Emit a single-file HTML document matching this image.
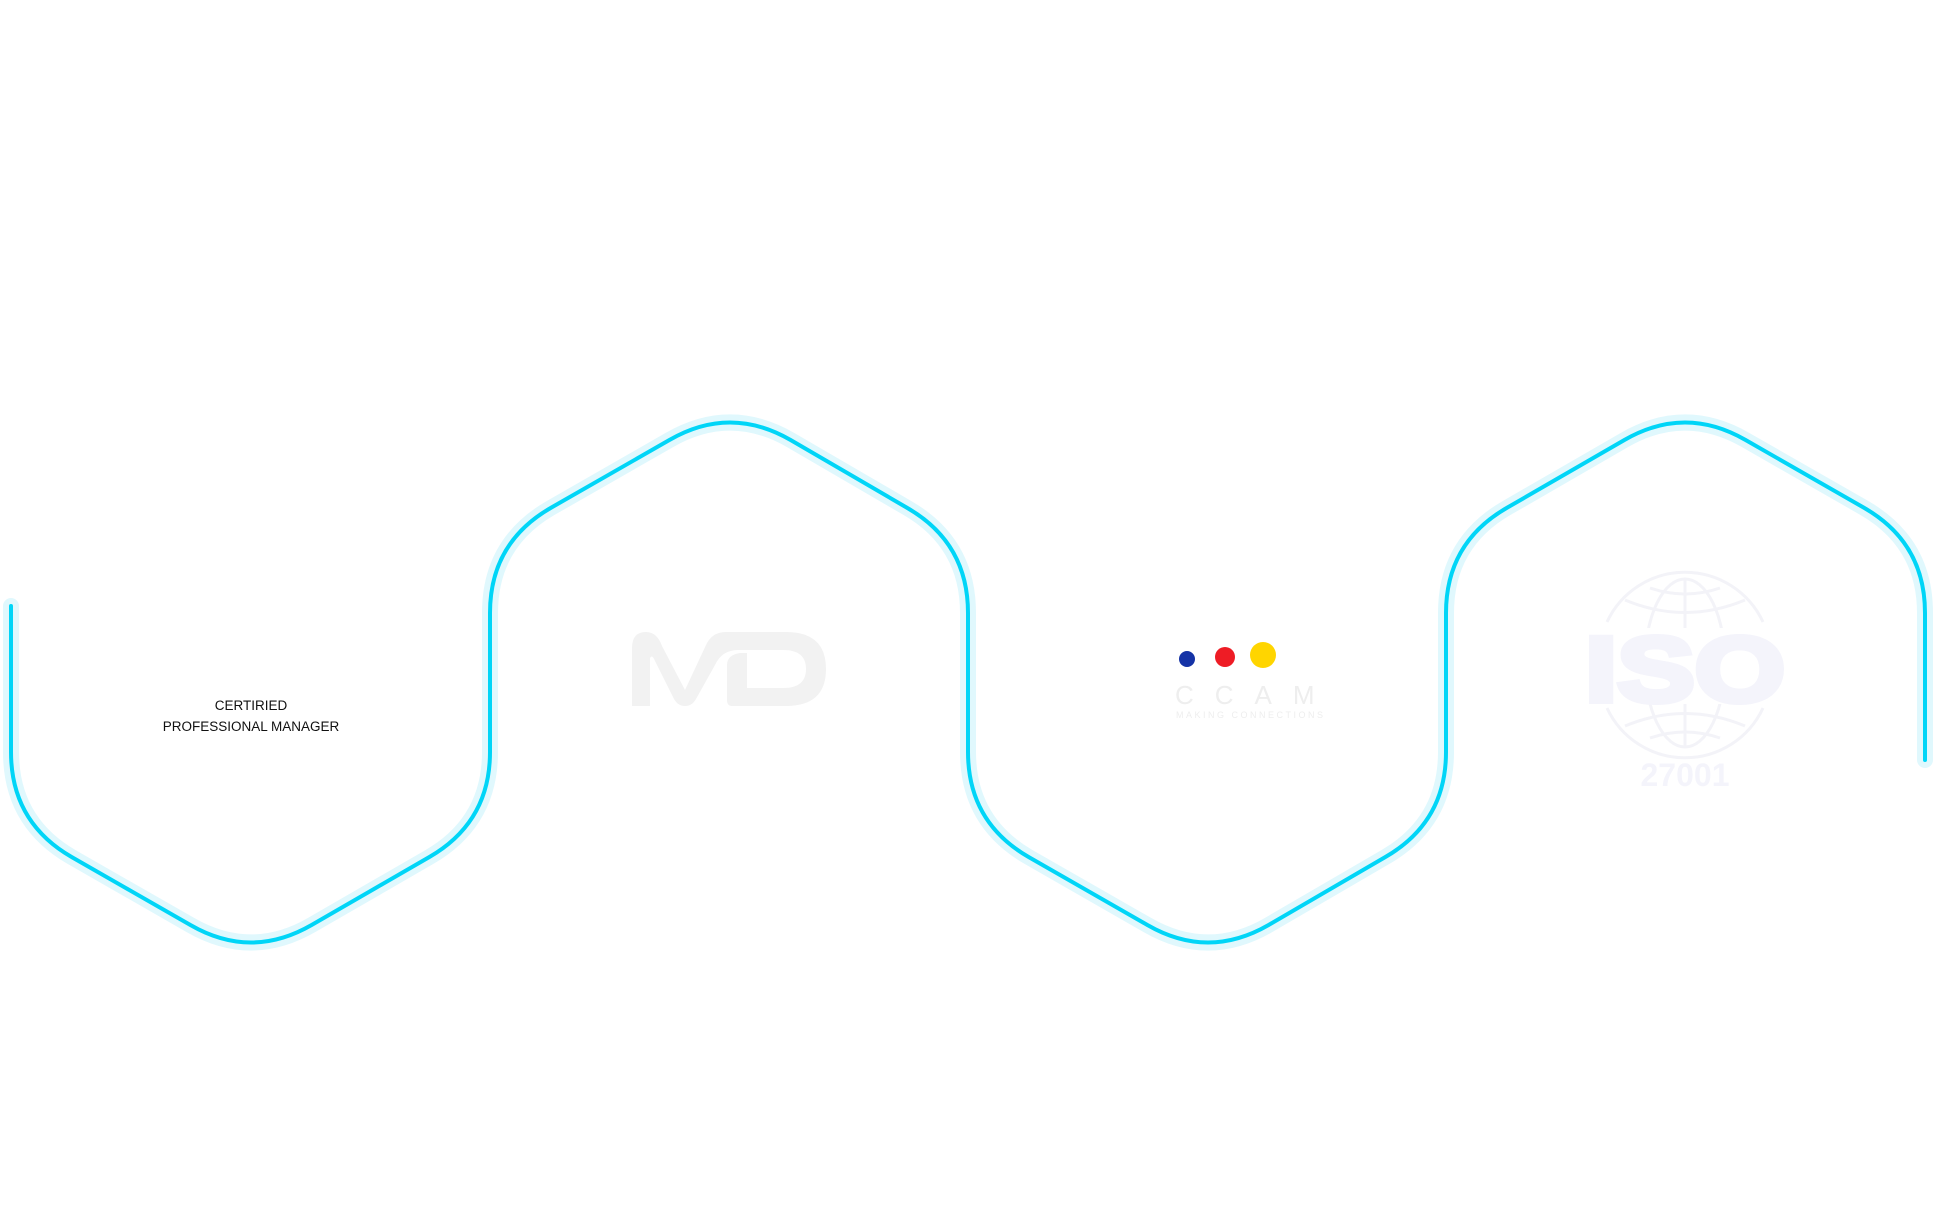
<!DOCTYPE html>
<html><head><meta charset="utf-8"><style>
html,body{margin:0;padding:0;background:#fff;}
svg{display:block}
</style></head><body>
<svg width="1936" height="1213" viewBox="0 0 1936 1213" xmlns="http://www.w3.org/2000/svg">
<defs>
<path id="wave" d="M11,606 L11,752 Q11,822 71.6,857 L190.4,925 Q251,960 311.6,925 L429.4,857 Q490,822 490,752 L490,613 Q490,543 550.6,508 L669.4,440 Q730,405 790.6,440 L907.4,508 Q968,543 968,613 L968,752 Q968,822 1028.6,857 L1147.4,925 Q1208,960 1268.6,925 L1385.4,857 Q1446,822 1446,752 L1446,613 Q1446,543 1506.6,508 L1624.4,440 Q1685,405 1745.6,440 L1864.4,508 Q1925,543 1925,613 L1925,760"/>
</defs>
<use href="#wave" fill="none" stroke="#e0f8fd" stroke-width="16" stroke-linecap="round" stroke-linejoin="round"/>
<use href="#wave" fill="none" stroke="#00d5f7" stroke-width="4" stroke-linecap="round" stroke-linejoin="round"/>

<text x="251" y="710" font-family="Liberation Sans, sans-serif" font-size="13.5" text-anchor="middle" fill="#111">CERTIRIED</text>
<text x="251" y="731" font-family="Liberation Sans, sans-serif" font-size="13.5" text-anchor="middle" fill="#111">PROFESSIONAL MANAGER</text>

<g fill="#f2f2f2">
<path d="M632,706 L632,648 Q632,632 646,632 Q657,632 662,646 L685,690 L706,645 Q712,632 726,632 L786,632 Q826,632 826,669 Q826,706 786,706 L732,706 Q727,706 727,700 L727,665 Q727,655 740,653 L747,653 L747,688 L783,688 Q806,688 806,669 Q806,650 783,650 L738,650 Q722,650 715,665 L696,699 Q692,706 685,706 Q678,706 674,699 L655,661 Q652,654 650,658 L650,706 Z"/>
</g>

<circle cx="1187" cy="659" r="8" fill="#1533a6"/>
<circle cx="1225" cy="657" r="10" fill="#ee1c25"/>
<circle cx="1263" cy="655" r="13" fill="#ffd500"/>
<text x="1175" y="704" font-family="Liberation Sans, sans-serif" font-size="26" font-weight="300" fill="#eeeeee" letter-spacing="21">CCAM</text>
<text x="1176" y="718" font-family="Liberation Sans, sans-serif" font-size="9" fill="#eeeeee" letter-spacing="2.5">MAKING CONNECTIONS</text>

<g fill="none" stroke="#f3f3f8" stroke-width="3">
<path d="M1607,622 A86,86 0 0 1 1763,622"/>
<path d="M1607,708 A86,86 0 0 0 1763,708"/>
<ellipse cx="1685" cy="663" rx="40" ry="84"/>
<line x1="1685" y1="579" x2="1685" y2="747"/>
<path d="M1625,600 Q1685,625 1745,600"/>
<path d="M1625,726 Q1685,701 1745,726"/>
<path d="M1650,588 Q1685,600 1720,588"/>
<path d="M1650,738 Q1685,726 1720,738"/>
</g>
<rect x="1590" y="628" width="210" height="76" fill="#fff"/>
<text x="1685" y="701" font-family="Liberation Sans, sans-serif" font-size="92" font-weight="bold" text-anchor="middle" fill="#f4f4fb" stroke="#f4f4fb" stroke-width="6" textLength="200" lengthAdjust="spacingAndGlyphs">ISO</text>
<text x="1685" y="786" font-family="Liberation Sans, sans-serif" font-size="32" font-weight="bold" text-anchor="middle" fill="#f4f4fb">27001</text>
</svg>
</body></html>
